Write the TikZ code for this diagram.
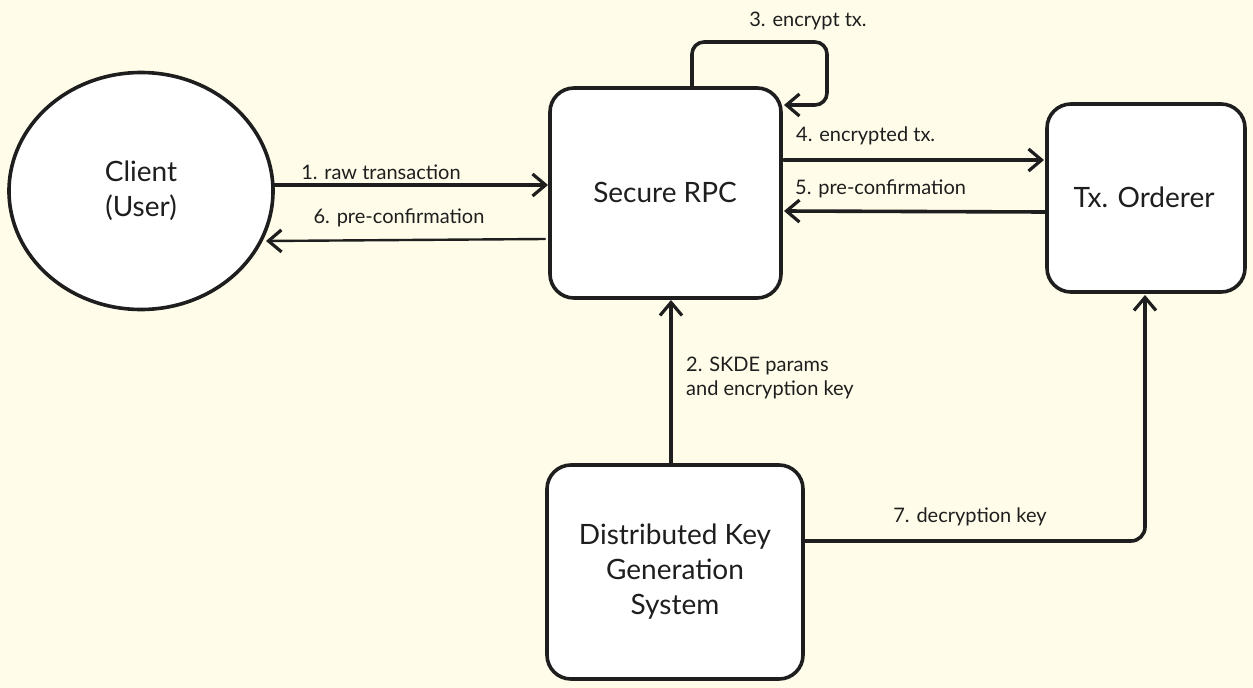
\documentclass[tikz,border=0pt]{standalone}
\usepackage{fontspec}
\setmainfont{Lato}
\usetikzlibrary{arrows.meta,shapes.geometric}
\definecolor{bg}{RGB}{255,253,233}
\definecolor{ink}{RGB}{30,30,30}
\tikzset{
  box/.style={draw=ink, fill=white, line width=3.6pt, rounded corners=24pt, inner sep=0pt,
    font=\fontsize{28}{35}\selectfont, text=ink, align=center},
  nodetext/.style={font=\fontsize{28}{35}\selectfont, text=ink, align=center, inner sep=0pt},
  arr/.style={draw=ink, line width=3.6pt, line cap=round, line join=round,
    -{Straight Barb[length=13pt,width=22pt,line width=3.2pt]}},
  thinarr/.style={arr, line width=2.4pt},
  lbl/.style={font=\fontsize{20}{24}\selectfont, text=ink, inner sep=0pt},
}
\begin{document}
\begin{tikzpicture}[x=1pt,y=-1pt]
\fill[bg] (0,0) rectangle (1253,688);
\useasboundingbox (0,0) rectangle (1253,688);

\node[ellipse, draw=ink, fill=white, line width=3.6pt, minimum width=264pt, minimum height=237pt,
  nodetext] (client) at (141,191) {Client\\(User)};
\node[box, minimum width=231pt, minimum height=210pt] (rpc) at (665.5,193) {};
\node[box, minimum width=198pt, minimum height=188pt] (tx) at (1146,198) {};
\node[box, minimum width=256pt, minimum height=214pt] (dkg) at (675,572) {};
\node[nodetext] (rpct) at (665,192) {Secure RPC};
\node[nodetext] (txt) at (1144,197) {Tx. Orderer};
\node[nodetext] (dkgt) at (675,572) {Distributed Key\\Generation\\System};

% 1 and 6
\coordinate (c1) at (274,185);
\coordinate (r1) at (548,185);
\draw[arr] (c1) -- (r1);
\node[lbl] (l1) at (381,172) {1. raw transaction};
\coordinate (r6) at (545,239);
\coordinate (c6) at (266,241);
\draw[thinarr] (r6) -- (c6);
\node[lbl] (l6) at (399,218) {6. pre-confirmation};

% 3 self loop
\coordinate (s0) at (692,88);
\coordinate (s1) at (692,42);
\coordinate (s2) at (827,42);
\coordinate (s3) at (827,105);
\coordinate (s4) at (784,105);
\draw[arr, rounded corners=12pt] (s0) -- (s1) -- (s2) -- (s3) -- (s4);
\node[lbl] (l3) at (808,21) {3. encrypt tx.};

% 4 and 5
\coordinate (r4) at (784,160);
\coordinate (t4) at (1044,160);
\draw[arr] (r4) -- (t4);
\node[lbl, anchor=west] (l4) at (796,136) {4. encrypted tx.};
\coordinate (t5) at (1045,212);
\coordinate (r5) at (784,211);
\draw[arr] (t5) -- (r5);
\node[lbl, anchor=west] (l5) at (795,189) {5. pre-confirmation};

% 2
\coordinate (d2) at (671,464);
\coordinate (r2) at (671,300);
\draw[arr] (d2) -- (r2);
\node[lbl, anchor=north west, align=left] (l2) at (686,357) {2. SKDE params\\and encryption key};

% 7
\coordinate (d7) at (805,541);
\coordinate (k7) at (1145,541);
\coordinate (t7) at (1145,295);
\draw[arr, rounded corners=14pt] (d7) -- (k7) -- (t7);
\node[lbl] (l7) at (970,517) {7. decryption key};
\end{tikzpicture}
\end{document}
